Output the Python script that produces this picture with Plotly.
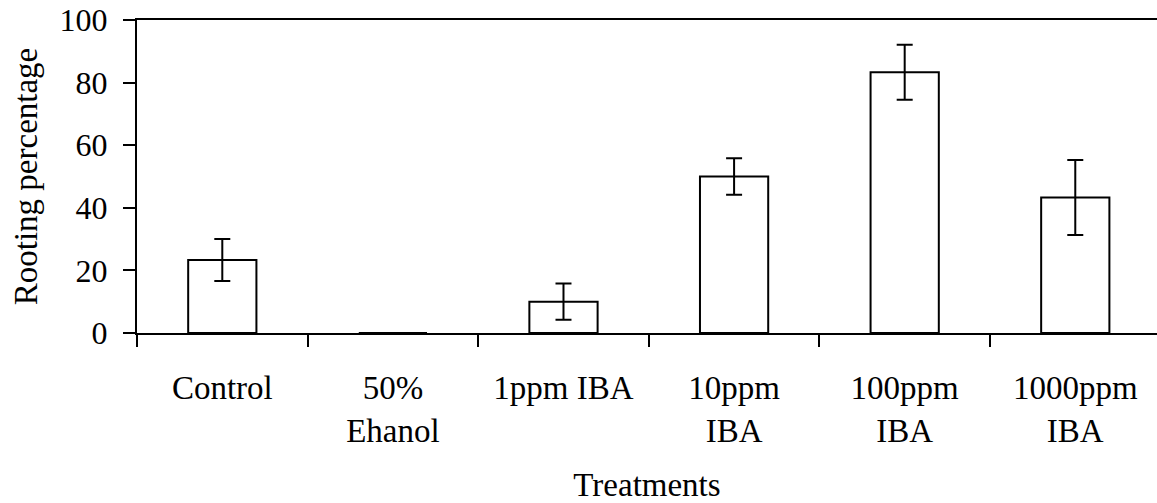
import plotly.graph_objects as go

categories = ["Control", "50%<br>Ehanol", "1ppm IBA", "10ppm<br>IBA", "100ppm<br>IBA", "1000ppm<br>IBA"]
rooting = [23.3, 0, 10.0, 50.0, 83.3, 43.3]
errors = [6.7, 0, 5.8, 5.8, 8.8, 12.0]
y_ticks = [0, 20, 40, 60, 80, 100]

FONT = "Liberation Serif, Times New Roman, serif"

fig = go.Figure()
fig.add_trace(go.Bar(
    x=categories,
    y=rooting,
    width=0.4,
    marker=dict(color="white", line=dict(color="black", width=2)),
    error_y=dict(type="data", array=errors, visible=True, color="black", thickness=2, width=8),
))

fig.update_layout(
    width=1157, height=503,
    margin=dict(l=137, r=0, t=20, b=170, autoexpand=False),
    paper_bgcolor="white", plot_bgcolor="white",
    font=dict(family=FONT, size=33, color="black"),
    showlegend=False,
)
fig.update_xaxes(
    type="category",
    range=[-0.5, 5.479],
    showline=True, linecolor="black", linewidth=2, mirror=True,
    ticks="outside", ticklen=12, tickwidth=2, tickcolor="black",
    tickson="boundaries",
    showgrid=False, zeroline=False,
    ticklabelstandoff=24,
    tickfont=dict(family=FONT, size=33, color="black"),
    title=dict(text="Treatments", standoff=28, font=dict(family=FONT, size=33, color="black")),
    automargin=False,
)
fig.update_yaxes(
    range=[0, 100],
    tickvals=y_ticks,
    showline=True, linecolor="black", linewidth=2,
    ticks="outside", ticklen=12, tickwidth=2, tickcolor="black",
    showgrid=False, zeroline=False,
    ticklabelstandoff=9,
    ticklabeloverflow="allow",
    tickfont=dict(family=FONT, size=32, color="black"),
    title=dict(text="Rooting percentage", standoff=12, font=dict(family=FONT, size=33, color="black")),
    automargin=False,
)

fig.write_html(
    "out.html",
    config={"displayModeBar": False},
    post_script="document.body.style.margin='0';document.body.style.overflow='hidden';",
)
